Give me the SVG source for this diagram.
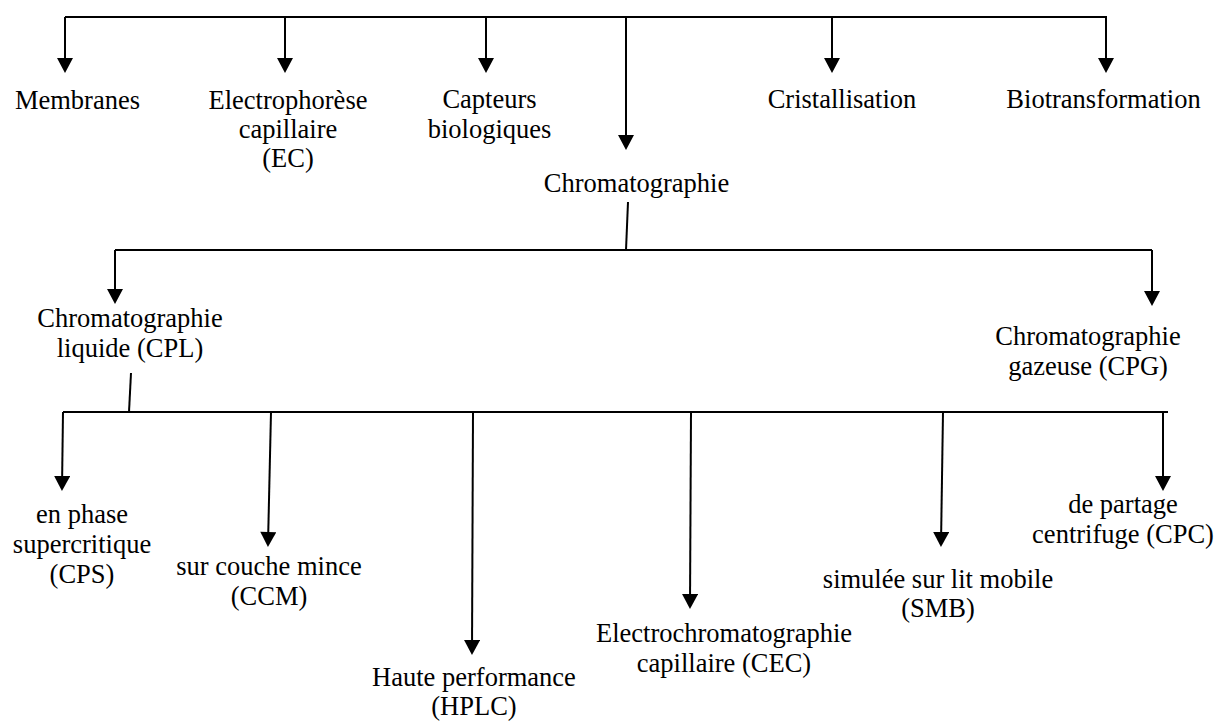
<svg xmlns="http://www.w3.org/2000/svg" width="1215" height="721" viewBox="0 0 1215 721">
<style>
.t text{font-size:26.5px;fill:#000;text-anchor:middle}
.c{fill:none;stroke:#000;stroke-width:2}
.a{fill:none;stroke:#000;stroke-width:2;marker-end:url(#ah)}
</style>
<defs>
<marker id="ah" markerUnits="userSpaceOnUse" markerWidth="16" markerHeight="16" viewBox="0 0 15 16" refX="12" refY="8" orient="auto">
<path d="M0,0 L15,8 L0,16 z" fill="#000"/>
</marker>
</defs>
<rect width="1215" height="721" fill="#fff"/>
<g id="connectors">
<path class="c" d="M65,17 H1107"/>
<path class="a" d="M65,17 V70"/>
<path class="a" d="M285,17 V70"/>
<path class="a" d="M486,17 V70"/>
<path class="a" d="M626,17 V147"/>
<path class="a" d="M832,17 V70"/>
<path class="a" d="M1106,17 V70"/>
<path class="c" d="M628,202 L626,250"/>
<path class="c" d="M115,250 H1152"/>
<path class="a" d="M115,250 V301"/>
<path class="a" d="M1152,250 V303"/>
<path class="c" d="M131,373 L129,412"/>
<path class="c" d="M63,412 H1168"/>
<path class="a" d="M63,412 L62,488"/>
<path class="a" d="M271,412 L268,544"/>
<path class="a" d="M473,412 L472,652"/>
<path class="a" d="M691,412 L690,606"/>
<path class="a" d="M943,412 L941,544"/>
<path class="a" d="M1163,412 V488"/>
</g>
<g class="t" font-family="'Liberation Serif', 'Times New Roman', 'DejaVu Serif', serif">
<g id="n-membranes"><text x="77.5" y="109">Membranes</text></g>
<g id="n-ec"><text x="288" y="109">Electrophorèse</text><text x="288" y="138">capillaire</text><text x="288" y="167">(EC)</text></g>
<g id="n-capteurs"><text x="489.5" y="108">Capteurs</text><text x="489.5" y="138">biologiques</text></g>
<g id="n-chromato"><text x="636.5" y="192">Chromatographie</text></g>
<g id="n-cristal"><text x="842" y="108">Cristallisation</text></g>
<g id="n-biotrans"><text x="1103.5" y="108">Biotransformation</text></g>
<g id="n-cpl"><text x="130" y="327">Chromatographie</text><text x="130" y="357">liquide (CPL)</text></g>
<g id="n-cpg"><text x="1088" y="345">Chromatographie</text><text x="1088" y="375">gazeuse (CPG)</text></g>
<g id="n-cps"><text x="82" y="523">en phase</text><text x="82" y="553">supercritique</text><text x="82" y="583">(CPS)</text></g>
<g id="n-ccm"><text x="269" y="575">sur couche mince</text><text x="269" y="605">(CCM)</text></g>
<g id="n-hplc"><text x="474" y="686">Haute performance</text><text x="474" y="715">(HPLC)</text></g>
<g id="n-cec"><text x="724" y="642">Electrochromatographie</text><text x="724" y="672">capillaire (CEC)</text></g>
<g id="n-smb"><text x="938" y="588">simulée sur lit mobile</text><text x="938" y="617">(SMB)</text></g>
<g id="n-cpc"><text x="1123" y="513">de partage</text><text x="1123" y="543">centrifuge (CPC)</text></g>
</g>
</svg>
